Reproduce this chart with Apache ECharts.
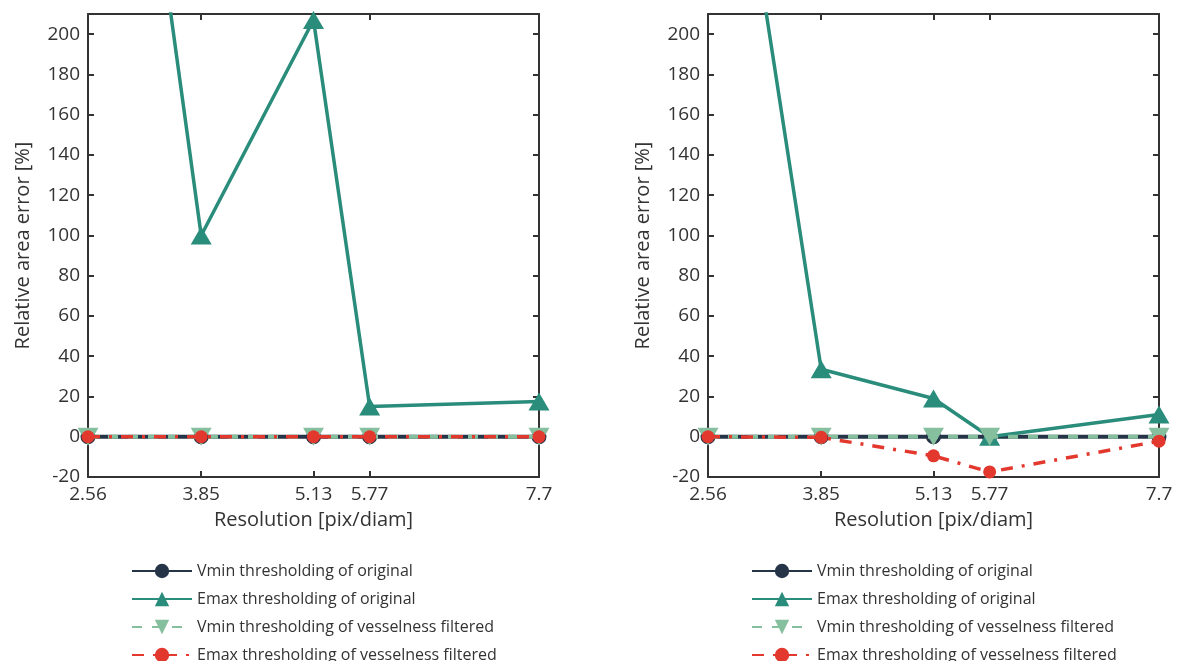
<!DOCTYPE html>
<html>
<head>
<meta charset="utf-8">
<script src="https://cdn.jsdelivr.net/npm/echarts@6/dist/echarts.min.js"></script>
<style>
html,body{margin:0;padding:0;background:#fff;}
#chart{width:1179px;height:661px;}
</style>
</head>
<body>
<div id="chart"></div>
<script>
// ---- data ----
const resolution = [2.56, 3.85, 5.13, 5.77, 7.7];
const xTicks = [2.56, 3.85, 5.13, 5.77, 7.7];
const yTicks = [-20, 0, 20, 40, 60, 80, 100, 120, 140, 160, 180, 200];
const seriesNames = [
  'Vmin thresholding of original',
  'Emax thresholding of original',
  'Vmin thresholding of vesselness filtered',
  'Emax thresholding of vesselness filtered'
];
const leftVminOrig = [0, 0, 0, 0, 0];
const leftEmaxOrig = [510, 100, 207, 15, 17.5];
const leftVminVess = [0, 0, 0, 0, 0];
const leftEmaxVess = [0, 0, 0, 0, 0];
const rightVminOrig = [0, 0, 0, 0, 0];
const rightEmaxOrig = [398, 33.5, 19, 0, 11];
const rightVminVess = [0, 0, 0, 0, 0];
const rightEmaxVess = [0, -0.3, -9.5, -17.5, -2.2];

// ---- styling ----
const FONT = 'Open Sans';
const TXT = '#333333';
const AX = '#333333';
const C_NAVY = '#263447';
const C_TEAL = '#2a8c7b';
const C_GREEN = '#86bf9e';
const C_RED = '#e2382e';

const pair = (ys) => resolution.map((x, i) => [x, ys[i]]);

function xAxes(gi) {
  return [
    {
      type: 'value', gridIndex: gi, min: 2.56, max: 7.7, position: 'bottom',
      name: 'Resolution [pix/diam]', nameLocation: 'middle', nameGap: 33,
      nameTextStyle: { fontFamily: FONT, fontSize: 20, color: TXT },
      axisLine: { show: true, onZero: false, lineStyle: { color: AX, width: 2 } },
      axisTick: { show: true, inside: true, length: 6, customValues: xTicks, lineStyle: { color: AX, width: 2 } },
      axisLabel: { show: true, customValues: xTicks, margin: 8, fontFamily: FONT, fontSize: 19, color: TXT,
        formatter: (v) => String(v) },
      splitLine: { show: false }
    },
    {
      type: 'value', gridIndex: gi, min: 2.56, max: 7.7, position: 'top',
      axisLine: { show: true, onZero: false, lineStyle: { color: AX, width: 2 } },
      axisTick: { show: true, inside: true, length: 6, customValues: xTicks, lineStyle: { color: AX, width: 2 } },
      axisLabel: { show: false },
      splitLine: { show: false }
    }
  ];
}
function yAxes(gi) {
  return [
    {
      type: 'value', gridIndex: gi, min: -20, max: 210, position: 'left',
      name: 'Relative area error [%]', nameLocation: 'middle', nameGap: 55, nameRotate: 90,
      nameTextStyle: { fontFamily: FONT, fontSize: 20, color: TXT },
      axisLine: { show: true, onZero: false, lineStyle: { color: AX, width: 2 } },
      axisTick: { show: true, inside: true, length: 6, customValues: yTicks, lineStyle: { color: AX, width: 2 } },
      axisLabel: { show: true, customValues: yTicks, margin: 8, fontFamily: FONT, fontSize: 19, color: TXT },
      splitLine: { show: false }
    },
    {
      type: 'value', gridIndex: gi, min: -20, max: 210, position: 'right',
      axisLine: { show: true, onZero: false, lineStyle: { color: AX, width: 2 } },
      axisTick: { show: true, inside: true, length: 6, customValues: yTicks, lineStyle: { color: AX, width: 2 } },
      axisLabel: { show: false },
      splitLine: { show: false }
    }
  ];
}

function panelSeries(gi, vminO, emaxO, vminV, emaxV) {
  const xi = gi * 2, yi = gi * 2;
  return [
    { name: seriesNames[0], type: 'line', xAxisIndex: xi, yAxisIndex: yi, data: pair(vminO),
      symbol: 'circle', symbolSize: 15, color: C_NAVY,
      lineStyle: { color: C_NAVY, width: 4 }, itemStyle: { color: C_NAVY }, z: 2 },
    { name: seriesNames[1], type: 'line', xAxisIndex: xi, yAxisIndex: yi, data: pair(emaxO),
      symbol: 'triangle', symbolSize: [21, 18], color: C_TEAL,
      lineStyle: { color: C_TEAL, width: 3.5 }, itemStyle: { color: C_TEAL }, z: 3 },
    { name: seriesNames[2], type: 'line', xAxisIndex: xi, yAxisIndex: yi, data: pair(vminV),
      symbol: 'triangle', symbolRotate: 180, symbolSize: [21, 18], color: C_GREEN,
      lineStyle: { color: C_GREEN, width: 4, type: [10, 10] }, itemStyle: { color: C_GREEN }, z: 4 },
    { name: seriesNames[3], type: 'line', xAxisIndex: xi, yAxisIndex: yi, data: pair(emaxV),
      symbol: 'circle', symbolSize: 13, color: C_RED,
      lineStyle: { color: C_RED, width: 3.5, type: [12, 9, 3, 9] }, itemStyle: { color: C_RED }, z: 5 }
  ];
}

function legend(left) {
  return {
    orient: 'vertical', left: left, top: 557, height: 140, width: 420,
    itemWidth: 60, itemHeight: 18, itemGap: 10,
    data: seriesNames, selectedMode: false,
    textStyle: { fontFamily: FONT, fontSize: 16, color: TXT, lineHeight: 18 }
  };
}

const option = {
  animation: false,
  backgroundColor: '#ffffff',
  grid: [
    { left: 88, top: 14, width: 451, height: 463 },
    { left: 708, top: 14, width: 451, height: 463 }
  ],
  xAxis: [...xAxes(0), ...xAxes(1)],
  yAxis: [...yAxes(0), ...yAxes(1)],
  legend: [legend(126), legend(746)],
  series: [
    ...panelSeries(0, leftVminOrig, leftEmaxOrig, leftVminVess, leftEmaxVess),
    ...panelSeries(1, rightVminOrig, rightEmaxOrig, rightVminVess, rightEmaxVess)
  ]
};

const chart = echarts.init(document.getElementById('chart'), null, { renderer: 'canvas' });
chart.setOption(option);
</script>
</body>
</html>
